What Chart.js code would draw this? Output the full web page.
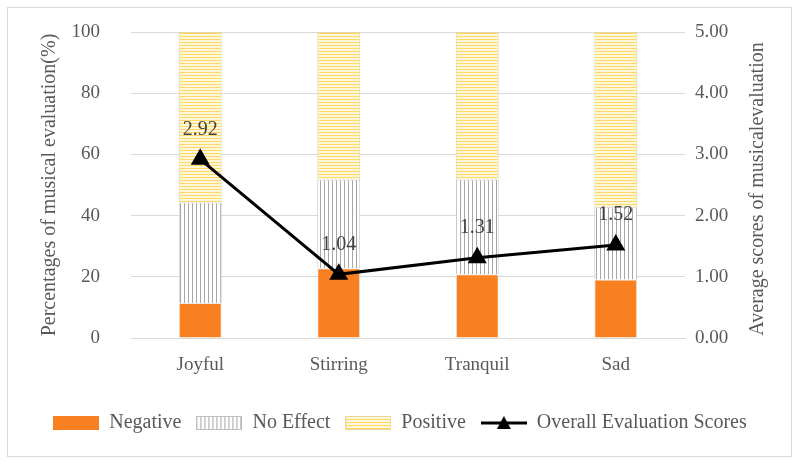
<!DOCTYPE html>
<html>
<head>
<meta charset="utf-8">
<script src="https://cdn.jsdelivr.net/npm/chart.js@4/dist/chart.umd.min.js"></script>
<style>
  html, body { margin: 0; padding: 0; background: #fff; }
  #wrap { width: 800px; height: 467px; }
</style>
</head>
<body>
<div id="wrap"><canvas id="musicChart" width="800" height="467"></canvas></div>
<script>
const categories = ['Joyful', 'Stirring', 'Tranquil', 'Sad'];
const negative = [11.4, 22.8, 20.8, 19.1];
const noEffect = [32.9, 29.0, 31.0, 23.6];
const positive = [55.7, 48.2, 48.2, 57.3];
const overallScores = [2.92, 1.04, 1.31, 1.52];

const FONT = "'Liberation Serif', 'Times New Roman', serif";
const TXT = '#595959';

//---------------- fill patterns ----------------//
function makeCanvas(w, h) {
  const c = document.createElement('canvas');
  c.width = w; c.height = h;
  return c;
}

function verticalLines() {
  const c = makeCanvas(4, 4);
  const g = c.getContext('2d');
  g.fillStyle = '#ffffff';
  g.fillRect(0, 0, 4, 4);
  g.fillStyle = '#a6a6a6';
  g.fillRect(0, 0, 1, 4);
  return c;
}

function horizontalLines() {
  const c = makeCanvas(4, 3);
  const g = c.getContext('2d');
  g.fillStyle = '#fff7dc';
  g.fillRect(0, 0, 4, 3);
  g.fillStyle = '#ffd965';
  g.fillRect(0, 0, 4, 1);
  return c;
}

const ctx = document.getElementById('musicChart').getContext('2d');
const noEffectFill = ctx.createPattern(verticalLines(), 'repeat');
const positiveFill = ctx.createPattern(horizontalLines(), 'repeat');
const negativeFill = '#f98020';

// legend icons
function boxIcon(fill, stroke) {
  const c = makeCanvas(46, 14);
  const g = c.getContext('2d');
  g.fillStyle = g.createPattern(fill, 'repeat');
  g.fillRect(0, 0, 46, 14);
  g.strokeStyle = stroke;
  g.lineWidth = 1;
  g.strokeRect(0.5, 0.5, 45, 13);
  return c;
}
function solidIcon(color) {
  const c = makeCanvas(46, 14);
  const g = c.getContext('2d');
  g.fillStyle = color;
  g.fillRect(0, 0, 46, 14);
  return c;
}
function lineIcon() {
  const c = makeCanvas(46, 16);
  const g = c.getContext('2d');
  g.strokeStyle = '#000';
  g.lineWidth = 3;
  g.beginPath(); g.moveTo(0, 8); g.lineTo(46, 8); g.stroke();
  g.fillStyle = '#000';
  g.beginPath(); g.moveTo(23, 1); g.lineTo(30, 14); g.lineTo(16, 14); g.closePath(); g.fill();
  return c;
}
const legendIcons = [solidIcon(negativeFill), boxIcon(verticalLines(), '#bfbfbf'), boxIcon(horizontalLines(), '#e6d49a'), lineIcon()];

//---------------- plugins ----------------//
const frame = {
  id: 'frame',
  beforeDraw(chart) {
    const c = chart.ctx;
    c.save();
    c.fillStyle = '#fff';
    c.fillRect(0, 0, chart.width, chart.height);
    c.strokeStyle = '#d9d9d9';
    c.lineWidth = 1;
    c.strokeRect(7.5, 7.5, 784, 449);
    c.restore();
  }
};

// values above the markers + right axis title (reads bottom to top)
const scoreLabels = {
  id: 'scoreLabels',
  afterDatasetsDraw(chart) {
    const meta = chart.getDatasetMeta(3);
    const c = chart.ctx;
    c.save();
    c.font = '20px ' + FONT;
    c.fillStyle = '#404040';
    c.textAlign = 'center';
    c.textBaseline = 'middle';
    meta.data.forEach((pt, i) => {
      c.fillText(overallScores[i].toFixed(2), pt.x, pt.y - 30);
    });
    const area = chart.chartArea;
    c.fillStyle = TXT;
    c.translate(758, (area.top + area.bottom) / 2 + 4);
    c.rotate(-Math.PI / 2);
    c.fillText('Average scores of musicalevaluation', 0, 0);
    c.restore();
  }
};

//---------------- chart ----------------//
const data = {
  labels: categories,
  datasets: [
    {
      label: 'Negative',
      data: negative,
      backgroundColor: negativeFill,
      borderColor: '#e8e8e8',
      borderWidth: 1,
      order: 1
    },
    {
      label: 'No Effect',
      data: noEffect,
      backgroundColor: noEffectFill,
      borderColor: '#c8c8c8',
      borderWidth: 1,
      order: 1
    },
    {
      label: 'Positive',
      data: positive,
      backgroundColor: positiveFill,
      borderColor: '#e2d6a8',
      borderWidth: 1,
      order: 1
    },
    {
      type: 'line',
      label: 'Overall Evaluation Scores',
      data: overallScores,
      yAxisID: 'y1',
      borderColor: '#000',
      backgroundColor: '#000',
      borderWidth: 3,
      pointStyle: 'triangle',
      pointRadius: 8,
      pointHoverRadius: 8,
      tension: 0,
      order: 0
    }
  ]
};

const config = {
  type: 'bar',
  data: data,
  options: {
    responsive: false,
    animation: false,
    layout: { padding: { left: 8, right: 8, top: 32, bottom: 24 } },
    datasets: { bar: { barPercentage: 0.31, categoryPercentage: 1.0 } },
    scales: {
      x: {
        stacked: true,
        grid: { display: false, drawTicks: false },
        border: { display: true, color: '#d9d9d9' },
        ticks: { color: TXT, font: { family: FONT, size: 19 }, padding: 16 },
        afterFit(s) { s.height = 60; }
      },
      y: {
        stacked: true,
        min: 0, max: 100,
        ticks: { stepSize: 20, color: TXT, font: { family: FONT, size: 19 }, padding: 31 },
        grid: { color: '#d9d9d9', drawTicks: false },
        border: { display: false },
        title: {
          display: true,
          text: 'Percentages of musical evaluation(%)',
          color: TXT,
          font: { family: FONT, size: 20 },
          padding: { top: 30, bottom: 0 }
        },
        afterFit(s) { s.width = 123; s.paddingTop = 0; s.paddingBottom = 0; }
      },
      y1: {
        position: 'right',
        min: 0, max: 5,
        ticks: {
          stepSize: 1, color: TXT, font: { family: FONT, size: 19 }, padding: 10,
          callback: v => Number(v).toFixed(2)
        },
        grid: { display: false, drawTicks: false },
        border: { display: false },
        afterFit(s) { s.width = 107; s.paddingTop = 0; s.paddingBottom = 0; }
      }
    },
    plugins: {
      tooltip: { enabled: false },
      legend: {
        position: 'bottom',
        labels: {
          usePointStyle: true,
          pointStyleWidth: 46,
          boxHeight: 14,
          padding: 15,
          color: TXT,
          font: { family: FONT, size: 20 },
          sort: (a, b) => a.datasetIndex - b.datasetIndex,
          generateLabels(chart) {
            const items = Chart.defaults.plugins.legend.labels.generateLabels(chart);
            items.forEach(it => { it.pointStyle = legendIcons[it.datasetIndex]; });
            return items;
          }
        }
      }
    }
  },
  plugins: [frame, scoreLabels]
};

const musicChart = new Chart(ctx, config);
</script>
</body>
</html>
